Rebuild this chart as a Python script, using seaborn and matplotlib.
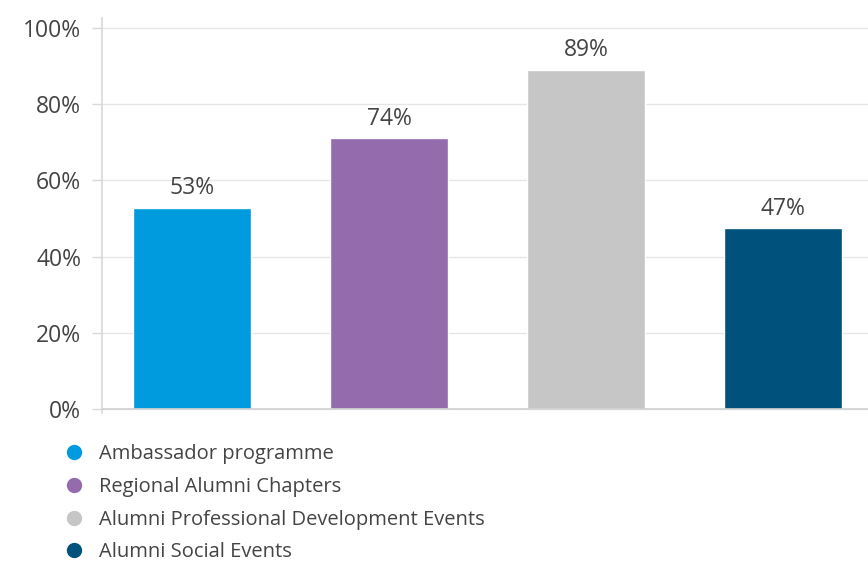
import pandas as pd
import matplotlib.pyplot as plt
import seaborn as sns
from matplotlib.lines import Line2D

# data
programmes = ["Ambassador programme", "Regional Alumni Chapters",
              "Alumni Professional Development Events", "Alumni Social Events"]
bar_values = [52.8, 71.0, 89.0, 47.4]
value_labels = ["53%", "74%", "89%", "47%"]
colours = ["#009ADE", "#946BAD", "#C6C6C6", "#00527D"]
y_ticks = [0, 20, 40, 60, 80, 100]

df = pd.DataFrame({"programme": programmes, "value": bar_values})

sns.set_theme(style="white")
plt.rcParams["font.family"] = ["Open Sans", "DejaVu Sans"]
text_col = "#444444"

fig = plt.figure(figsize=(8.68, 5.63), dpi=100)
ax = fig.add_axes([0.1175, 0.2664, 0.8825, 0.7016])

sns.barplot(data=df, x="programme", y="value", hue="programme",
            palette=colours, saturation=1, width=0.6, legend=False,
            ax=ax, zorder=3)

for i, (v, lab) in enumerate(zip(bar_values, value_labels)):
    ax.text(i, v + 2.0, lab, ha="center", va="bottom", fontsize=16.5, color=text_col)

ax.set_xlim(-0.457, 3.43)
ax.set_ylim(-1.0, 102.6)
ax.set_yticks(y_ticks)
ax.set_yticklabels([f"{t}%" for t in y_ticks], fontsize=16.5, color=text_col)
ax.set_xticks([])
ax.set_xlabel("")
ax.set_ylabel("")
ax.grid(axis="y", color="#e6e6e6", linewidth=1, zorder=0)
ax.axhline(0, color="#d0d0d0", linewidth=1.2, zorder=4)
ax.tick_params(axis="y", length=7, width=1, color="#d9d9d9", pad=8, left=True)

for s in ["top", "right", "bottom"]:
    ax.spines[s].set_visible(False)
ax.spines["left"].set_color("#d9d9d9")
ax.spines["left"].set_linewidth(1.2)

handles = [Line2D([0], [0], marker="o", linestyle="", markersize=10,
                  markerfacecolor=c, markeredgecolor=c) for c in colours]
fig.legend(handles, programmes, loc="upper left", bbox_to_anchor=(0.064, 0.226),
           frameon=False, fontsize=14.5, labelcolor=text_col, handletextpad=0.75,
           labelspacing=0.64, borderaxespad=0, handlelength=1.0)

fig.savefig("out.png", dpi=100)
